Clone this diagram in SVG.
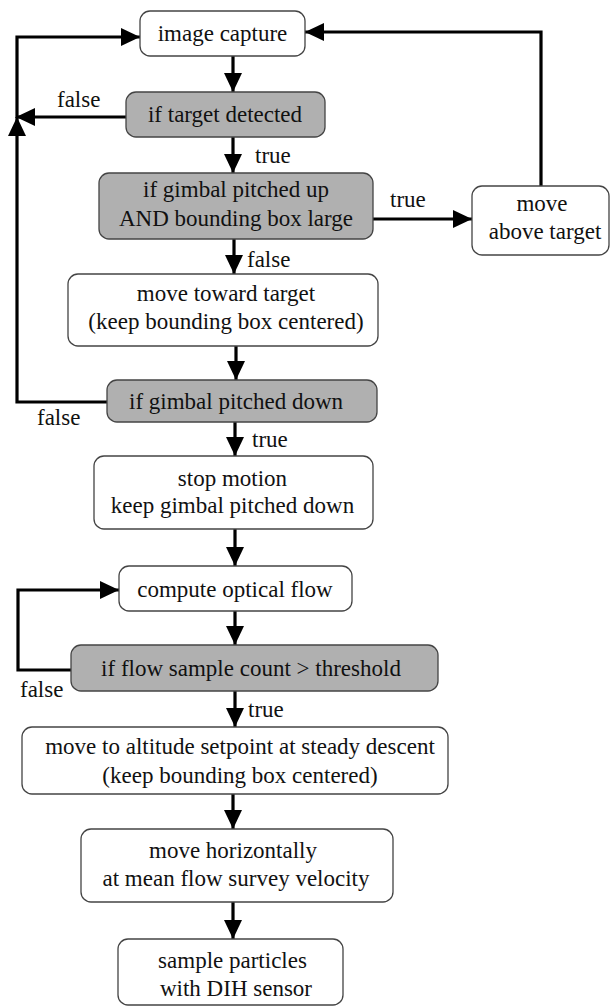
<svg xmlns="http://www.w3.org/2000/svg" width="611" height="1006" viewBox="0 0 611 1006">
<defs>
<style>
.box{fill:#ffffff;stroke:#444;stroke-width:1.3}
.dec{fill:#b0b0b0;stroke:#444;stroke-width:1.3}
.c{text-anchor:middle}
.ln{fill:none;stroke:#000;stroke-width:3.2}
</style>
<marker id="ah" markerUnits="userSpaceOnUse" markerWidth="19" markerHeight="18" refX="19" refY="9" orient="auto">
<path d="M0,0 L19,9 L0,18 z" fill="#000"/>
</marker>
</defs>
<rect width="611" height="1006" fill="#fff"/>
<g font-family="'Liberation Serif', 'DejaVu Serif', 'Times New Roman', serif" font-size="23" fill="#111">
<g id="connectors">
<path class="ln" d="M233,56 V92" marker-end="url(#ah)"/>
<path class="ln" d="M233,137 V173" marker-end="url(#ah)"/>
<path class="ln" d="M126,117 H16" marker-end="url(#ah)"/>
<path class="ln" d="M373,219 H472" marker-end="url(#ah)"/>
<path class="ln" d="M541,186 V32 H305" marker-end="url(#ah)"/>
<path class="ln" d="M234,239 V274" marker-end="url(#ah)"/>
<path class="ln" d="M236,346 V380" marker-end="url(#ah)"/>
<path class="ln" d="M107,402 H17 V117" marker-end="url(#ah)"/>
<path class="ln" d="M17,118 V37 H140" marker-end="url(#ah)"/>
<path class="ln" d="M235,422 V456" marker-end="url(#ah)"/>
<path class="ln" d="M235,529 V566" marker-end="url(#ah)"/>
<path class="ln" d="M235,611 V645" marker-end="url(#ah)"/>
<path class="ln" d="M71,670 H18 V590 H119" marker-end="url(#ah)"/>
<path class="ln" d="M235,691 V727" marker-end="url(#ah)"/>
<path class="ln" d="M233,794 V829" marker-end="url(#ah)"/>
<path class="ln" d="M233,902 V939" marker-end="url(#ah)"/>
<text x="57" y="107">false</text>
<text x="255" y="163">true</text>
<text x="390" y="207">true</text>
<text x="247" y="267">false</text>
<text x="37" y="425">false</text>
<text x="252" y="447">true</text>
<text x="20" y="697">false</text>
<text x="248" y="717">true</text>
</g>
<g id="n-image-capture">
<rect class="box" x="140" y="11" width="165" height="45" rx="10"/>
<text class="c" x="222.5" y="41">image capture</text>
</g>
<g id="n-target-detected">
<rect class="dec" x="126" y="92" width="199" height="45" rx="10"/>
<text class="c" x="225" y="122">if target detected</text>
</g>
<g id="n-gimbal-up">
<rect class="dec" x="99" y="173" width="274" height="66" rx="10"/>
<text class="c" x="236" y="197">if gimbal pitched up</text>
<text class="c" x="236" y="226">AND bounding box large</text>
</g>
<g id="n-move-above">
<rect class="box" x="472" y="186" width="137" height="69" rx="10"/>
<text class="c" x="542" y="211">move</text>
<text class="c" x="545" y="239">above target</text>
</g>
<g id="n-move-toward">
<rect class="box" x="68" y="274" width="310" height="72" rx="10"/>
<text class="c" x="226" y="301">move toward target</text>
<text class="c" x="226" y="329">(keep bounding box centered)</text>
</g>
<g id="n-gimbal-down">
<rect class="dec" x="107" y="380" width="270" height="42" rx="10"/>
<text class="c" x="236" y="409">if gimbal pitched down</text>
</g>
<g id="n-stop-motion">
<rect class="box" x="94" y="456" width="279" height="73" rx="10"/>
<text class="c" x="232.5" y="486">stop motion</text>
<text class="c" x="232.5" y="513">keep gimbal pitched down</text>
</g>
<g id="n-optical-flow">
<rect class="box" x="119" y="566" width="233" height="45" rx="10"/>
<text class="c" x="235" y="597">compute optical flow</text>
</g>
<g id="n-flow-count">
<rect class="dec" x="71" y="645" width="367" height="46" rx="10"/>
<text class="c" x="251" y="676">if flow sample count &gt; threshold</text>
</g>
<g id="n-altitude">
<rect class="box" x="22" y="727" width="426" height="67" rx="10"/>
<text class="c" x="240" y="754">move to altitude setpoint at steady descent</text>
<text class="c" x="240" y="783">(keep bounding box centered)</text>
</g>
<g id="n-horizontal">
<rect class="box" x="81" y="829" width="312" height="73" rx="10"/>
<text class="c" x="233" y="858">move horizontally</text>
<text class="c" x="236" y="886">at mean flow survey velocity</text>
</g>
<g id="n-sample">
<rect class="box" x="118" y="939" width="225" height="66" rx="10"/>
<text class="c" x="232.5" y="968">sample particles</text>
<text class="c" x="236" y="996">with DIH sensor</text>
</g>
</g>
</svg>
